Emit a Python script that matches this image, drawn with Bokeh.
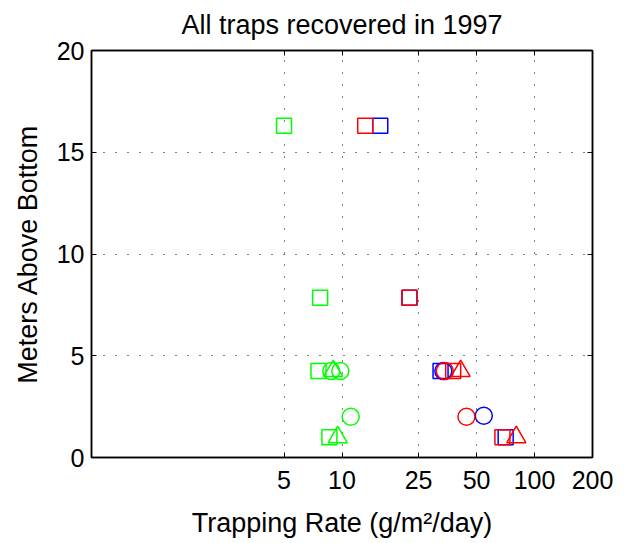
from bokeh.plotting import figure
from bokeh.models import (Range1d, FixedTicker, LogAxis, LinearAxis,
                          BasicTickFormatter, CustomLabelingPolicy)
from bokeh.embed import file_html
from bokeh.resources import INLINE

# ---- data ----
x_ticks = [5, 10, 25, 50, 100, 200]
y_ticks = [0, 5, 10, 15, 20]

green_sq_x = [5.0, 7.7, 7.55, 8.6]
green_sq_y = [16.3, 7.85, 4.25, 1.0]
green_ci_x = [8.8, 9.8, 11.1]
green_ci_y = [4.25, 4.25, 2.0]
green_tr_x = [9.0, 9.5]
green_tr_y = [4.25, 1.0]

blue_sq_x = [15.8, 22.4, 32.5, 70.8]
blue_sq_y = [16.3, 7.85, 4.25, 1.0]
blue_ci_x = [33.6, 54.5]
blue_ci_y = [4.25, 2.05]

red_sq_x = [13.2, 22.4, 37.8, 68.1]
red_sq_y = [16.3, 7.85, 4.25, 1.0]
red_ci_x = [34.2, 44.3]
red_ci_y = [4.25, 2.0]
red_tr_x = [41.3, 80.4]
red_tr_y = [4.25, 1.0]

FONT = "Liberation Sans"
TICK_FS = "25px"
LABEL_FS = "27px"

p = figure(x_axis_type="log", x_range=Range1d(0.5, 200), y_range=Range1d(0, 20),
           frame_width=501, frame_height=407,
           min_border_left=91, min_border_right=31, min_border_top=50, min_border_bottom=85,
           output_backend="svg", toolbar_location=None,
           title="All traps recovered in 1997")

p.title.text_font = FONT
p.title.text_font_size = LABEL_FS
p.title.text_font_style = "normal"
p.title.align = "center"
p.title.text_color = "black"
p.title.standoff = 13

p.outline_line_color = "black"
p.outline_line_width = 1.5

no_labels = CustomLabelingPolicy(code="""
for (let i = 0; i < indices.size; i++) { indices.unset(i) }
return indices
""")

def style_axis(ax, show_labels=True):
    ax.axis_line_color = "black"
    ax.axis_line_width = 1.5
    ax.major_tick_line_color = "black"
    ax.major_tick_in = 5
    ax.major_tick_out = 0
    ax.minor_tick_line_color = None
    if show_labels:
        ax.major_label_text_font = FONT
        ax.major_label_text_font_size = TICK_FS
        ax.major_label_text_color = "black"
        ax.axis_label_text_font = FONT
        ax.axis_label_text_font_size = LABEL_FS
        ax.axis_label_text_font_style = "normal"
        ax.axis_label_text_color = "black"
    else:
        ax.major_label_policy = no_labels
        ax.major_label_text_font_size = "1px"
        ax.major_label_standoff = 0

xa = p.xaxis[0]
xa.ticker = FixedTicker(ticks=x_ticks, minor_ticks=[])
xa.formatter = BasicTickFormatter()
xa.axis_label = "Trapping Rate (g/m\u00b2/day)"
style_axis(xa)
xa.major_label_standoff = 13
xa.axis_label_standoff = 16

ya = p.yaxis[0]
ya.ticker = FixedTicker(ticks=y_ticks, minor_ticks=[])
ya.axis_label = "Meters Above Bottom"
style_axis(ya)
ya.major_label_standoff = 7
ya.axis_label_standoff = 11

top = LogAxis(ticker=FixedTicker(ticks=x_ticks, minor_ticks=[]))
style_axis(top, show_labels=False)
p.add_layout(top, "above")
right = LinearAxis(ticker=FixedTicker(ticks=y_ticks, minor_ticks=[]))
style_axis(right, show_labels=False)
p.add_layout(right, "right")

for g in (p.xgrid[0], p.ygrid[0]):
    g.grid_line_color = "black"
    g.grid_line_dash = "1 11"
    g.grid_line_width = 1

LW = 1.5
p.scatter(green_sq_x, green_sq_y, marker="square", size=15, fill_color=None, line_color="#00ff00", line_width=LW)
p.scatter(green_ci_x, green_ci_y, marker="circle", size=17, fill_color=None, line_color="#00ff00", line_width=LW)
p.scatter(green_tr_x, green_tr_y, marker="triangle", size=19, fill_color=None, line_color="#00ff00", line_width=LW)
p.scatter(blue_sq_x, blue_sq_y, marker="square", size=15, fill_color=None, line_color="#0000ff", line_width=LW)
p.scatter(blue_ci_x, blue_ci_y, marker="circle", size=17, fill_color=None, line_color="#0000ff", line_width=LW)
p.scatter(red_sq_x, red_sq_y, marker="square", size=15, fill_color=None, line_color="#ff0000", line_width=LW)
p.scatter(red_ci_x, red_ci_y, marker="circle", size=17, fill_color=None, line_color="#ff0000", line_width=LW)
p.scatter(red_tr_x, red_tr_y, marker="triangle", size=19, fill_color=None, line_color="#ff0000", line_width=LW)

open("out.html", "w").write(file_html(p, INLINE))
